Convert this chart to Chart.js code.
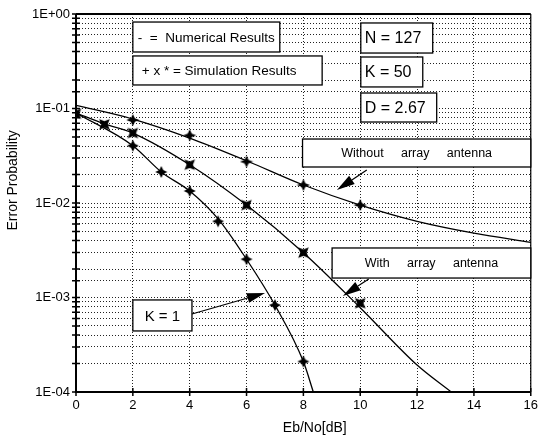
<!DOCTYPE html>
<html>
<head>
<meta charset="utf-8">
<script src="https://cdn.jsdelivr.net/npm/chart.js@4.4.1/dist/chart.umd.min.js"></script>
<style>
html,body{margin:0;padding:0;background:#fff;}
#wrap{width:544px;height:443px;position:relative;}
</style>
</head>
<body>
<div id="wrap"><canvas id="c" width="544" height="443"></canvas></div>
<script>
// ---- data ----
const xTicks = [0, 2, 4, 6, 8, 10, 12, 14, 16];
const yTickLabels = ["1E+00", "1E-01", "1E-02", "1E-03", "1E-04"];

// Numerical results (lines)
const withoutX = [0, 2, 4, 6, 8, 10, 12, 14, 16];
const withoutY = [0.108, 0.0774, 0.0487, 0.028, 0.0155, 0.0095, 0.0064, 0.0048, 0.00384];

const withX = [0, 1, 2, 4, 6, 8, 10, 12, 13.2];
const withY = [0.0896, 0.0687, 0.055, 0.0254, 0.0095, 0.00298, 0.00078, 0.000193, 0.0001];

const k1X = [0, 2, 3, 4, 5, 6, 7, 8, 8.35];
const k1Y = [0.0896, 0.0404, 0.0213, 0.0134, 0.0068, 0.00254, 0.00083, 0.00021, 0.0001];

// Simulation results (markers)
const simWithoutX = [2, 4, 6, 8, 10];
const simWithoutY = [0.0755, 0.052, 0.0274, 0.0155, 0.0095];

const simWithX = [0, 1, 2, 4, 6, 8, 10];
const simWithY = [0.088, 0.068, 0.055, 0.0254, 0.0095, 0.00298, 0.00087];

const simK1X = [2, 3, 4, 5, 6, 7, 8];
const simK1Y = [0.0404, 0.0213, 0.0134, 0.0064, 0.00254, 0.00083, 0.00021];

// ---- helpers ----
const pts = (xs, ys) => xs.map((x, i) => ({x: x, y: ys[i]}));

function starCanvas(points, outer, inner, rot, sx) {
  const s = Math.ceil(outer * 2 + 2);
  const cv = document.createElement('canvas');
  cv.width = s; cv.height = s;
  const g = cv.getContext('2d');
  g.translate(s / 2, s / 2);
  g.rotate(rot);
  g.scale(sx || 1, 1);
  g.beginPath();
  for (let i = 0; i < points * 2; i++) {
    const r = i % 2 === 0 ? outer : inner;
    const a = Math.PI * i / points - Math.PI / 2;
    g.lineTo(r * Math.cos(a), r * Math.sin(a));
  }
  g.closePath();
  g.fillStyle = '#000';
  g.fill();
  return cv;
}
const plusMarker = starCanvas(4, 6, 2.6, 0, 1.1);
const xMarker = starCanvas(4, 7.5, 3.2, Math.PI / 4, 1);
const astMarker = starCanvas(4, 6, 2.8, 0, 1);

const FONT = '"Liberation Sans", Arial, Helvetica, sans-serif';

// annotation boxes, in data coordinates (x value, log10 y value)
const boxes = [
  {x1: 2.0, x2: 7.17, l1: -0.085, l2: -0.402, text: "-  =  Numerical Results", size: 13.5, align: 'left', pad: 5},
  {x1: 2.0, x2: 8.66, l1: -0.444, l2: -0.751, text: "+ x * = Simulation Results", size: 13.5, align: 'left', pad: 9},
  {x1: 10.02, x2: 12.55, l1: -0.095, l2: -0.413, text: "N = 127", size: 16, align: 'left', pad: 4},
  {x1: 10.02, x2: 12.2, l1: -0.455, l2: -0.772, text: "K = 50", size: 16, align: 'left', pad: 4},
  {x1: 10.02, x2: 12.69, l1: -0.836, l2: -1.143, text: "D = 2.67", size: 16, align: 'left', pad: 4},
  {x1: 7.97, x2: 16.0, l1: -1.323, l2: -1.619, text: "Without     array     antenna", size: 12.5, align: 'center'},
  {x1: 9.01, x2: 16.0, l1: -2.476, l2: -2.794, text: "With     array     antenna", size: 12.5, align: 'center'},
  {x1: 2.0, x2: 4.08, l1: -3.026, l2: -3.354, text: "K = 1", size: 15, align: 'center'}
];
const arrows = [
  {fx: 10.23, fl: -1.651, tx: 9.18, tl: -1.862},
  {fx: 10.30, fl: -2.804, tx: 9.39, tl: -2.984},
  {fx: 4.08, fl: -3.175, tx: 6.65, tl: -2.952}
];

const overlay = {
  id: 'overlay',
  afterDraw(chart) {
    const ctx = chart.ctx, a = chart.chartArea;
    const xs = chart.scales.x, ys = chart.scales.y;
    const px = v => xs.getPixelForValue(v);
    const py = l => ys.getPixelForValue(Math.pow(10, l));
    ctx.save();
    // axis frame
    ctx.strokeStyle = '#000';
    ctx.lineWidth = 2;
    ctx.beginPath();
    ctx.moveTo(a.left, a.top); ctx.lineTo(a.left, a.bottom); ctx.lineTo(a.right, a.bottom);
    ctx.moveTo(a.left, a.top); ctx.lineTo(a.right, a.top);
    ctx.stroke();
    ctx.lineWidth = 1.2;
    ctx.beginPath();
    ctx.moveTo(a.right, a.top); ctx.lineTo(a.right, a.bottom);
    ctx.stroke();
    // tick marks crossing axes
    ctx.lineWidth = 1.5;
    ctx.beginPath();
    ys.ticks.forEach(t => {
      const y = ys.getPixelForValue(t.value);
      ctx.moveTo(a.left - 4, y); ctx.lineTo(a.left + 4, y);
    });
    xs.ticks.forEach(t => {
      const x = xs.getPixelForValue(t.value);
      ctx.moveTo(x, a.bottom - 4); ctx.lineTo(x, a.bottom + 4);
    });
    ctx.stroke();

    // annotation boxes
    boxes.forEach(b => {
      const x1 = px(b.x1), x2 = px(b.x2), y1 = py(b.l1), y2 = py(b.l2);
      ctx.fillStyle = '#fff';
      ctx.fillRect(x1, y1, x2 - x1, y2 - y1);
      ctx.strokeStyle = '#000';
      ctx.lineWidth = 1.3;
      ctx.strokeRect(x1, y1, x2 - x1, y2 - y1);
      ctx.fillStyle = '#000';
      ctx.font = (b.bold ? 'bold ' : '') + b.size + 'px ' + FONT;
      ctx.textBaseline = 'middle';
      if (b.align === 'center') {
        ctx.textAlign = 'center';
        ctx.fillText(b.text, (x1 + x2) / 2, (y1 + y2) / 2 + 1);
      } else {
        ctx.textAlign = 'left';
        ctx.fillText(b.text, x1 + b.pad, (y1 + y2) / 2 + 1);
      }
    });
    // arrows
    arrows.forEach(r => {
      const fx = px(r.fx), fy = py(r.fl), tx = px(r.tx), ty = py(r.tl);
      const ang = Math.atan2(ty - fy, tx - fx);
      const len = 18, w = 5;
      const bx = tx - len * Math.cos(ang), by = ty - len * Math.sin(ang);
      ctx.strokeStyle = '#000';
      ctx.lineWidth = 1.2;
      ctx.beginPath();
      ctx.moveTo(fx, fy); ctx.lineTo(bx, by);
      ctx.stroke();
      ctx.fillStyle = '#000';
      ctx.beginPath();
      ctx.moveTo(tx, ty);
      ctx.lineTo(bx + w * Math.sin(ang), by - w * Math.cos(ang));
      ctx.lineTo(bx - w * Math.sin(ang), by + w * Math.cos(ang));
      ctx.closePath();
      ctx.fill();
    });
    // axis titles
    ctx.fillStyle = '#000';
    ctx.font = '14px ' + FONT;
    ctx.textAlign = 'center';
    ctx.textBaseline = 'middle';
    ctx.fillText('Eb/No[dB]', a.left + (a.right - a.left) * 0.525, 428);
    ctx.translate(13, a.top + (a.bottom - a.top) * 0.44);
    ctx.rotate(-Math.PI / 2);
    ctx.fillText('Error Probability', 0, 0);
    ctx.restore();
  }
};

const lineDs = (data) => ({
  data: data, showLine: true, borderColor: '#000', borderWidth: 1.3,
  pointRadius: 0, fill: false, cubicInterpolationMode: 'monotone'
});
const markDs = (data, style) => ({
  data: data, showLine: false, pointStyle: style, pointRadius: 7,
  backgroundColor: '#000', borderColor: '#000'
});

new Chart(document.getElementById('c'), {
  type: 'scatter',
  data: {
    datasets: [
      lineDs(pts(withoutX, withoutY)),
      lineDs(pts(withX, withY)),
      lineDs(pts(k1X, k1Y)),
      markDs(pts(simWithoutX, simWithoutY), plusMarker),
      markDs(pts(simWithX, simWithY), xMarker),
      markDs(pts(simK1X, simK1Y), astMarker)
    ]
  },
  options: {
    responsive: false,
    animation: false,
    events: [],
    layout: {padding: {top: 14, right: 7, left: 0, bottom: 0}},
    plugins: {legend: {display: false}, tooltip: {enabled: false}},
    scales: {
      x: {
        type: 'linear', min: 0, max: 16,
        afterBuildTicks: s => { s.ticks = xTicks.map(v => ({value: v})); },
        afterFit: s => { s.height = 51; },
        grid: {color: '#222', lineWidth: 1, drawTicks: false, tickLength: 0},
        border: {display: false, dash: [1, 2]},
        ticks: {color: '#000', font: {size: 13, family: FONT}, padding: 6, maxRotation: 0,
                callback: v => String(v)}
      },
      y: {
        type: 'logarithmic', min: 0.0001, max: 1,
        afterFit: s => { s.width = 76; },
        grid: {color: '#222', lineWidth: 1, drawTicks: false, tickLength: 0},
        border: {display: false, dash: [1, 2]},
        ticks: {color: '#000', font: {size: 13, family: FONT}, padding: 6, autoSkip: false,
          callback: function(v) {
            const l = Math.log10(v);
            if (Math.abs(l - Math.round(l)) < 1e-9) {
              const idx = -Math.round(l);
              return yTickLabels[idx] !== undefined ? yTickLabels[idx] : '';
            }
            return '';
          }}
      }
    }
  },
  plugins: [overlay]
});
</script>
</body>
</html>
